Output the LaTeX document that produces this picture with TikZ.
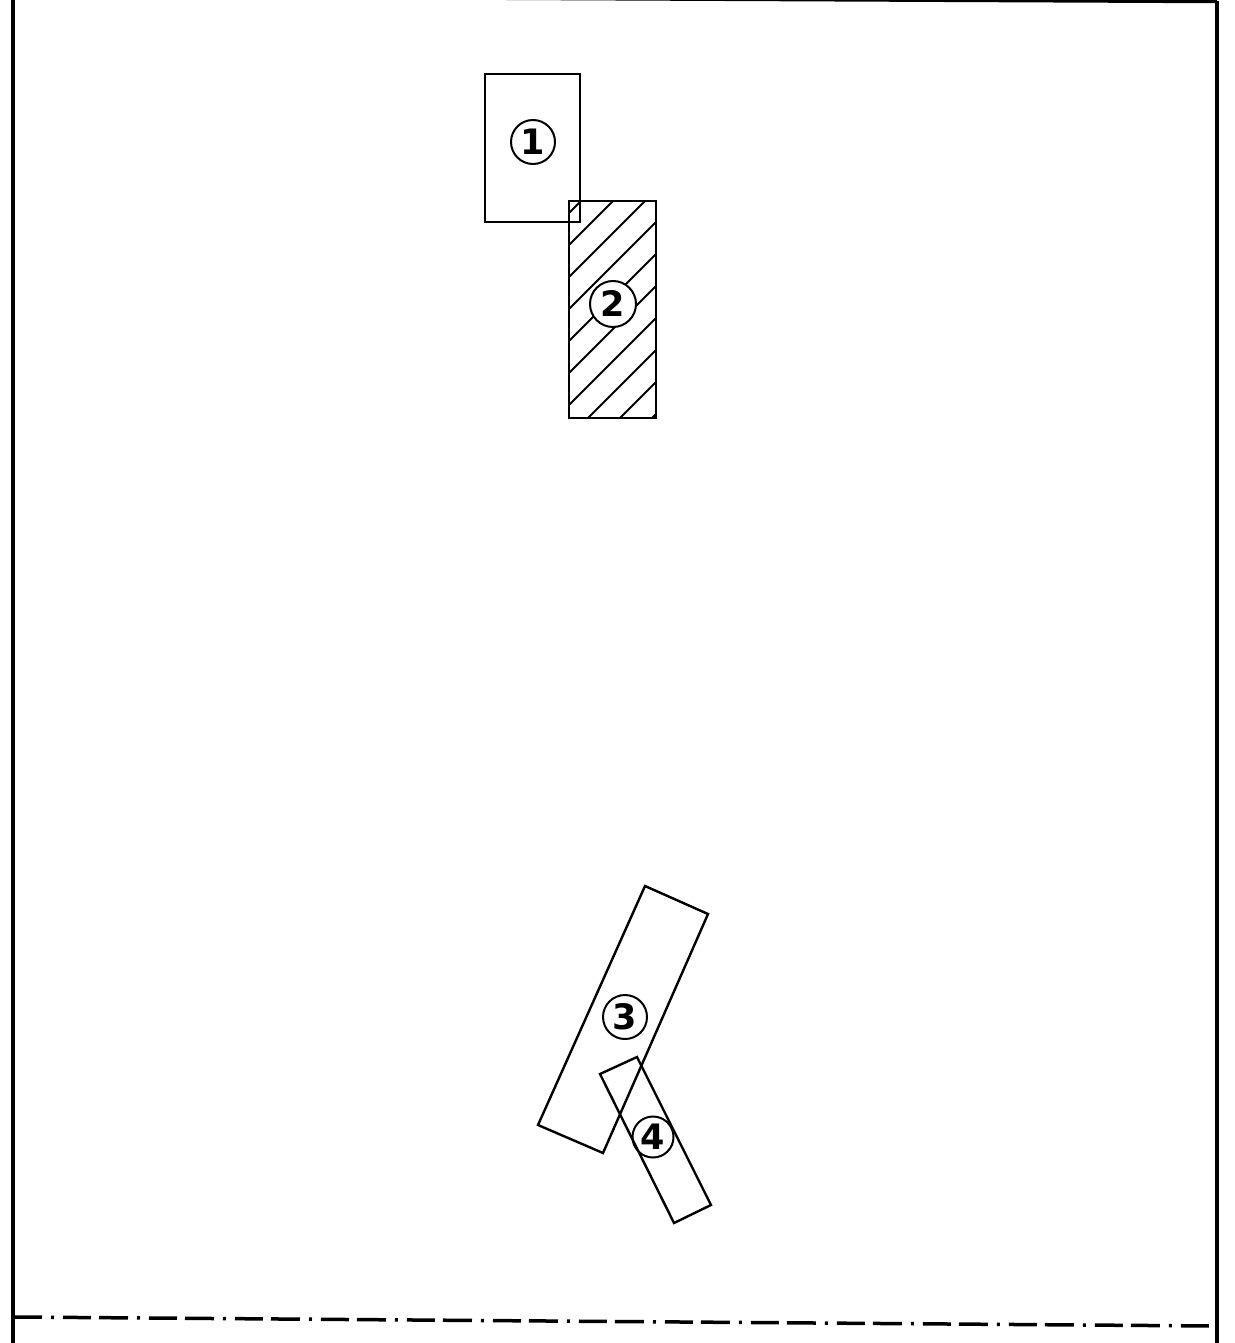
\documentclass[tikz,border=0pt]{standalone}
\usepackage{fontspec}
\newfontfamily\labelfont{DejaVu Sans}
\begin{document}
\begin{tikzpicture}[x=1pt,y=-1pt,
  border/.style={line width=3.5pt},
  part/.style={line width=2.4pt, line join=miter},
  hatchline/.style={line width=1.8pt},
  centreline/.style={line width=3.5pt, dash pattern=on 29pt off 9pt on 3pt off 9pt on 28pt off 8pt},
  tag/.style={circle, draw, line width=2pt, fill=white, minimum size=44pt, inner sep=0pt,
    font=\labelfont\bfseries\fontsize{35}{35}\selectfont}]
\useasboundingbox (0,0) rectangle (1234,1343);
\fill[white] (0,0) rectangle (1234,1343);
% frame
\coordinate (tl) at (13,-4);
\coordinate (bl) at (13,1345);
\coordinate (tr) at (1217,1.5);
\coordinate (br) at (1217,1345);
\draw[border] (tl) -- (bl);
\draw[border] (tr) -- (br);
\draw[border] (tl) -- (tr);
\coordinate (cl) at (13,1317);
\coordinate (cr) at (1217,1326);
\draw[centreline] (cl) -- (cr);
% part 2 (hatched)
\begin{scope}
  \clip (569,201) rectangle (656,418);
  \foreach \c in {782,814,...,1074} \draw[hatchline] (\c-418,418) -- (\c-201,201);
\end{scope}
\draw[part] (569,201) rectangle (656,418);
% part 1
\draw[part] (485,74) rectangle (580,222);
% part 3
\coordinate (a3) at (645,886);
\coordinate (b3) at (708,914);
\coordinate (c3) at (603,1153);
\coordinate (d3) at (538,1125);
\draw[part] (a3) -- (b3) -- (c3) -- (d3) -- cycle;
% part 4
\coordinate (a4) at (600,1074);
\coordinate (b4) at (637,1057);
\coordinate (c4) at (711,1205);
\coordinate (d4) at (674,1223);
\draw[part] (a4) -- (b4) -- (c4) -- (d4) -- cycle;
% labels
\node[tag] (n1) at (533,142) {1};
\node[tag, minimum size=46pt] (n2) at (613,304) {2};
\node[tag] (n3) at (625,1017) {3};
\node[tag, minimum size=41pt, fill=none] (n4) at (653,1137) {4};
\end{tikzpicture}
\end{document}
